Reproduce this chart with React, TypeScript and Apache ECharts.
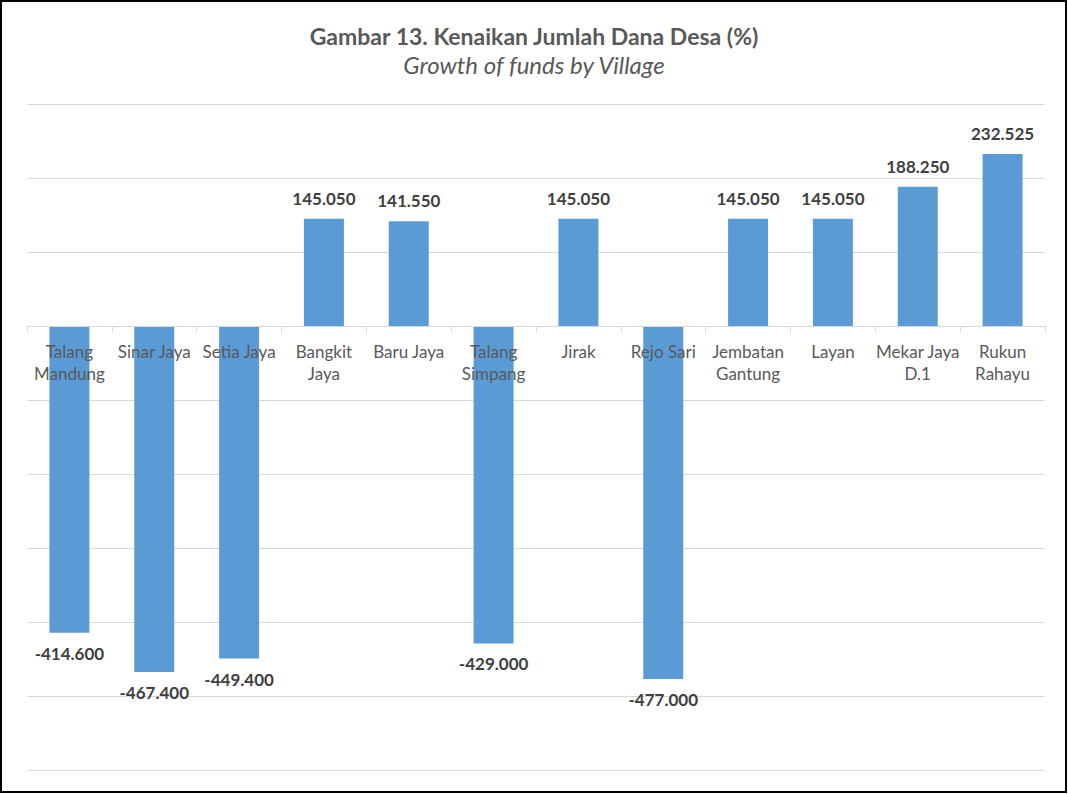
import React, { useEffect, useRef } from "react";
import * as echarts from "echarts";

const categories = [
  "Talang\nMandung",
  "Sinar Jaya",
  "Setia Jaya",
  "Bangkit\nJaya",
  "Baru Jaya",
  "Talang\nSimpang",
  "Jirak",
  "Rejo Sari",
  "Jembatan\nGantung",
  "Layan",
  "Mekar Jaya\nD.1",
  "Rukun\nRahayu",
];

const growth = [
  -414600, -467400, -449400, 145050, 141550, -429000, 145050, -477000, 145050,
  145050, 188250, 232525,
];

const titleText = "Gambar 13. Kenaikan Jumlah Dana Desa (%)";
const subtitleText = "Growth of funds by Village";

const fmt = (v: number) => {
  const s = Math.abs(v)
    .toString()
    .replace(/\B(?=(\d{3})+(?!\d))/g, ".");
  return (v < 0 ? "-" : "") + s;
};

export default function App() {
  const ref = useRef<HTMLDivElement>(null);
  useEffect(() => {
    if (!ref.current) return;
    const chart = echarts.init(ref.current, undefined, { renderer: "svg" });
    const font = "Lato, 'Open Sans', sans-serif";
    chart.setOption({
      animation: false,
      backgroundColor: "#ffffff",
      title: {
        text: titleText,
        subtext: subtitleText,
        left: "center",
        top: 19,
        itemGap: 5,
        textStyle: {
          fontFamily: font,
          fontSize: 23,
          fontWeight: "bold",
          color: "#595959",
        },
        subtextStyle: {
          fontFamily: font,
          fontSize: 24,
          fontStyle: "italic",
          color: "#595959",
        },
      },
      graphic: [
        {
          type: "rect",
          shape: { x: 1, y: 1, width: 1065, height: 791 },
          style: { fill: "none", stroke: "#000000", lineWidth: 2 },
          z: 100,
        },
      ],
      grid: {
        left: 27,
        right: 23,
        top: 104,
        bottom: 24,
        outerBoundsMode: "none",
        containLabel: false,
      },
      xAxis: [
        {
          type: "category",
          data: categories,
          z: 5,
          axisLine: { onZero: true, lineStyle: { color: "#d9d9d9", width: 1 } },
          axisTick: { show: true, length: 6, lineStyle: { color: "#d9d9d9" } },
          axisLabel: { show: false },
        },
        {
          type: "category",
          data: categories,
          position: "bottom",
          offset: -444,
          z: 5,
          axisLine: { show: false, onZero: false },
          axisTick: { show: false },
          axisLabel: {
            interval: 0,
            color: "#595959",
            fontFamily: font,
            fontSize: 17,
            lineHeight: 22,
            margin: 14,
          },
        },
      ],
      yAxis: {
        type: "value",
        min: -600000,
        max: 300000,
        interval: 100000,
        axisLabel: { show: false },
        axisLine: { show: false },
        axisTick: { show: false },
        splitLine: { lineStyle: { color: "#d9d9d9", width: 1 } },
      },
      series: [
        {
          type: "bar",
          xAxisIndex: 0,
          barWidth: 40,
          itemStyle: { color: "#5b9bd5" },
          data: growth.map((v) => ({
            value: v,
            label: { position: v < 0 ? "bottom" : "top" },
          })),
          label: {
            show: true,
            distance: 12,
            fontFamily: font,
            fontSize: 17,
            fontWeight: "bold",
            color: "#404040",
            formatter: (p: any) => fmt(p.value),
          },
        },
      ],
    });
    return () => chart.dispose();
  }, []);
  return (
    <div
      ref={ref}
      style={{ position: "absolute", left: 0, top: 0, width: 1068, height: 794 }}
    />
  );
}
